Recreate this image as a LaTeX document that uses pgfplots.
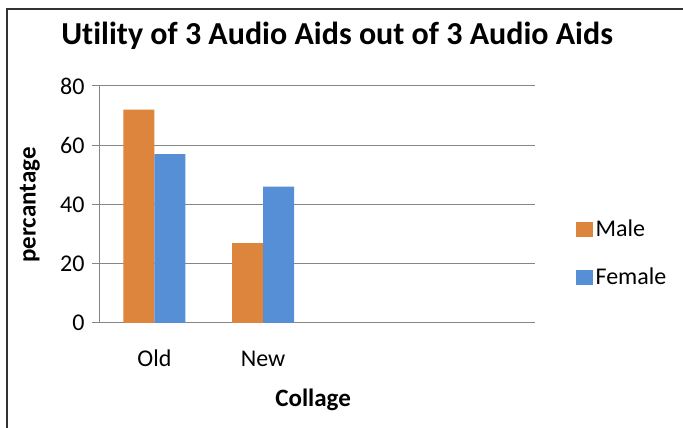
\documentclass[border=0pt]{standalone}
\usepackage{pgfplots}
\pgfplotsset{compat=1.18}
\usepackage{fontspec}
\setmainfont{Carlito}[Ligatures=NoCommon]
\definecolor{maleC}{RGB}{221,132,61}
\definecolor{femaleC}{RGB}{86,143,213}
\definecolor{gridC}{RGB}{134,134,134}
\begin{document}
\begin{tikzpicture}[x=1pt,y=1pt]
\begin{axis}[
    scale only axis,
    width=435pt, height=237pt,
    ybar=0pt, bar width=31pt,
    xmin=-0.5, xmax=3.5,
    ymin=0, ymax=80,
    xtick={0,1}, xticklabels={Old,New},
    ytick={0,20,40,60,80},
    x tick style={draw=none},
    y tick style={gridC, line width=1pt},
    tick align=outside, major tick length=8pt,
    axis x line*=bottom, axis y line*=left,
    axis line style={gridC, line width=1pt},
    ymajorgrids=true,
    grid style={gridC, line width=1pt},
    /pgf/number format/assume math mode=true,
    tick label style={font=\fontsize{24}{28}\selectfont},
    yticklabel style={xshift=-4pt},
    xticklabel style={yshift=-15pt, text height=17pt, text depth=0pt},
    title={Utility of 3 Audio Aids out of 3 Audio Aids},
    title style={font=\fontsize{32}{36}\selectfont\bfseries, at={(axis description cs:0.545,1.186)}, anchor=center},
    xlabel={Collage},
    xlabel style={font=\fontsize{25}{29}\selectfont\bfseries, at={(axis description cs:0.49,-0.325)}, anchor=center},
    ylabel={percantage},
    ylabel style={font=\fontsize{25}{29}\selectfont\bfseries, at={(axis description cs:-0.161,0.498)}, anchor=center, rotate=0},
    legend image code/.code={\fill[#1] (0pt,-7.5pt) rectangle (17pt,7.5pt);},
    legend style={draw=none, fill=none, font=\fontsize{24}{28}\selectfont,
        at={(axis description cs:1.094,0.295)}, anchor=west, row sep=25pt,
        inner sep=0pt, nodes={inner sep=2.5pt}},
    legend cell align=left,
]
\addplot[fill=maleC, draw=none] coordinates {(0,72) (1,27)};
\addplot[fill=femaleC, draw=none] coordinates {(0,57) (1,46)};
\legend{Male,Female}
\coordinate (SW) at (rel axis cs:0,0);
\end{axis}
\pgfresetboundingbox
\useasboundingbox ([shift={(-100pt,-105pt)}]SW) rectangle ([shift={(583pt,323pt)}]SW);
\draw[line width=2pt, black!80] ([shift={(-93pt,-105pt)}]SW) -- ([shift={(-93pt,314pt)}]SW) -- ([shift={(583pt,314pt)}]SW);
\end{tikzpicture}
\end{document}
